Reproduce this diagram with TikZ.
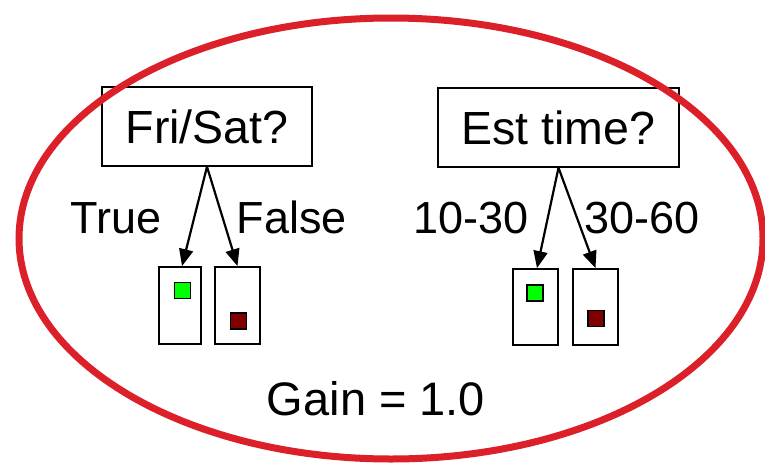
\documentclass[tikz,border=0pt]{standalone}
\usepackage{fontspec}
\setmainfont{Liberation Sans}
\usetikzlibrary{arrows.meta}
\definecolor{ellred}{RGB}{220,32,42}
\definecolor{leafgreen}{RGB}{0,255,0}
\definecolor{leafmaroon}{RGB}{128,0,0}
\tikzset{
  testbox/.style={draw=black, line width=1.5pt, minimum height=79pt, inner sep=0pt, font=\fontsize{46.5}{50}\selectfont},
  leafbox/.style={draw=black, line width=1.8pt, minimum width=44pt, minimum height=77pt, inner sep=0pt},
  posq/.style={draw=black, line width=1.2pt, fill=leafgreen, minimum size=16pt, inner sep=0pt},
  negq/.style={draw=black, line width=1.2pt, fill=leafmaroon, minimum size=16pt, inner sep=0pt},
  branch/.style={draw=black, line width=2.2pt, -{Triangle[length=17pt,width=14pt]}},
  lbl/.style={anchor=base, inner sep=0pt, font=\fontsize{45}{50}\selectfont}
}
\begin{document}
\begin{tikzpicture}[x=1pt,y=-1pt]
\useasboundingbox (0,0) rectangle (765,463);
% test boxes
\node[testbox, minimum width=210pt] (fri) at (207,126.5) {Fri/Sat?};
\node[testbox, minimum width=241pt] (est) at (558.5,127.5) {Est time?};
% leaves
\node[leafbox, minimum width=42pt] (l1) at (180,305.5) {};
\node[leafbox, minimum width=45pt] (l2) at (237.5,305.5) {};
\node[leafbox, minimum width=45pt, minimum height=76pt] (r1) at (535.5,307) {};
\node[leafbox, minimum width=45pt, minimum height=76pt] (r2) at (595.5,307) {};
% class squares
\node[posq] (g1) at (182.5,290.5) {};
\node[negq] (d1) at (238.5,321) {};
\node[posq] (g2) at (535,293) {};
\node[negq] (d2) at (596,318.5) {};
% branches
\draw[branch] (fri.south) -- ([xshift=2pt]l1.north);
\draw[branch] (fri.south) -- (l2.north);
\draw[branch] (est.south) -- ([xshift=1.5pt]r1.north);
\draw[branch] (est.south) -- (r2.north);
% labels
\node[lbl] (ltrue) at (116,233) {True};
\node[lbl] (lfalse) at (292,233) {False};
\node[lbl] (l1030) at (471,233) {10-30};
\node[lbl] (l3060) at (642,233) {30-60};
\node[lbl, font=\fontsize{47}{50}\selectfont] (gain) at (376,415) {Gain = 1.0};
% ellipse
\draw[ellred, line width=7pt] (391,238.5) ellipse [x radius=372pt, y radius=220.5pt];
\end{tikzpicture}
\end{document}
